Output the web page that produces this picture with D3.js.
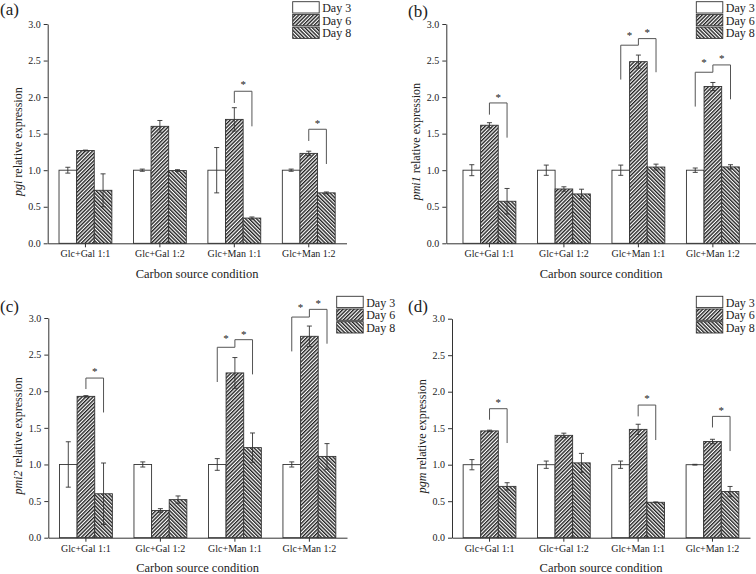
<!DOCTYPE html>
<html>
<head>
<meta charset="utf-8">
<script src="https://cdn.jsdelivr.net/npm/d3@7"></script>
<style>
  body { margin: 0; background: #fff; }
  svg { display: block; }
  text { font-family: "Liberation Serif", "Times New Roman", "DejaVu Serif", serif; fill: #222; }
</style>
</head>
<body>
<svg width="756" height="574"></svg>
<script>
const categories = ["Glc+Gal 1:1", "Glc+Gal 1:2", "Glc+Man 1:1", "Glc+Man 1:2"];
const days = ["Day 3", "Day 6", "Day 8"];
const yTicks = [0, 0.5, 1.0, 1.5, 2.0, 2.5, 3.0];

// means / errors: one row per day, one column per category
const pgiMean = [[1.00, 1.00, 1.00, 1.00], [1.27, 1.60, 1.695, 1.23], [0.725, 0.995, 0.345, 0.69]];
const pgiErr  = [[0.04, 0.015, 0.31, 0.015], [0.005, 0.08, 0.16, 0.03], [0.225, 0.012, 0.015, 0.012]];

const pmi1Mean = [[1.00, 1.00, 1.00, 1.00], [1.615, 0.743, 2.485, 2.145], [0.575, 0.675, 1.043, 1.045]];
const pmi1Err  = [[0.075, 0.07, 0.07, 0.03], [0.035, 0.03, 0.09, 0.055], [0.175, 0.065, 0.04, 0.03]];

const pmi2Mean = [[1.00, 1.00, 1.00, 1.00], [1.93, 0.372, 2.25, 2.75], [0.60, 0.52, 1.23, 1.11]];
const pmi2Err  = [[0.31, 0.035, 0.08, 0.035], [0.01, 0.025, 0.21, 0.14], [0.42, 0.05, 0.2, 0.175]];

const pgmMean = [[1.00, 1.00, 1.00, 1.00], [1.463, 1.402, 1.484, 1.318], [0.703, 1.025, 0.485, 0.632]];
const pgmErr  = [[0.07, 0.05, 0.05, 0.005], [0.01, 0.03, 0.07, 0.03], [0.05, 0.13, 0.005, 0.07]];

// significance brackets: [category, fromDay, toDay, top, leftLegBottom, rightLegBottom, star]
const pgiSig  = [[2, 1, 2, 2.08, 1.92, 1.60, 2.19], [3, 1, 2, 1.56, 1.40, 1.085, 1.66]];
const pmi1Sig = [[0, 1, 2, 1.92, 1.76, 1.445, 2.02],
                 [2, 0, 1, 2.71, 2.24, 2.71, 2.86], [2, 1, 2, 2.80, 2.71, 2.34, 2.90],
                 [3, 0, 1, 2.34, 1.87, 2.34, 2.49], [3, 1, 2, 2.44, 2.34, 1.97, 2.55]];
const pmi2Sig = [[0, 1, 2, 2.18, 2.03, 1.71, 2.285],
                 [2, 0, 1, 2.60, 2.126, 2.60, 2.74], [2, 1, 2, 2.704, 2.60, 2.23, 2.80],
                 [3, 0, 1, 3.013, 2.544, 3.013, 3.16], [3, 1, 2, 3.118, 3.013, 2.649, 3.22]];
const pgmSig  = [[0, 1, 2, 1.767, 1.616, 1.297, 1.87], [2, 1, 2, 1.817, 1.662, 1.338, 1.93],
                 [3, 1, 2, 1.662, 1.51, 1.187, 1.767]];

const panels = [
  {tag: "(a)", gene: "pgi",  mean: pgiMean,  err: pgiErr,  sig: pgiSig,
   x0: 47.7, x1: 346.5, yBase: 243.3, yTop: 24, po: 0.152, lx: 292.7, ly: 1.7, tx: 0, ty: 15},
  {tag: "(b)", gene: "pmi1", mean: pmi1Mean, err: pmi1Err, sig: pmi1Sig,
   x0: 446.3, x1: 756, yBase: 243.3, yTop: 24, po: 0.224, lx: 696.3, ly: 1.7, tx: 408, ty: 16.5},
  {tag: "(c)", gene: "pmi2", mean: pmi2Mean, err: pmi2Err, sig: pmi2Sig,
   x0: 48.3, x1: 347, yBase: 537.7, yTop: 318, po: 0.15, lx: 336.7, ly: 296.3, tx: 0, ty: 312},
  {tag: "(d)", gene: "pgm",  mean: pgmMean,  err: pgmErr,  sig: pgmSig,
   x0: 452, x1: 750, yBase: 537.7, yTop: 318.7, po: 0.15, lx: 696.3, ly: 296.3, tx: 408, ty: 312}
];

const svg = d3.select("svg");
const defs = svg.append("defs");

function hatch(id, angle) {
  const p = defs.append("pattern").attr("id", id)
    .attr("patternUnits", "userSpaceOnUse")
    .attr("width", 2.6).attr("height", 2.6)
    .attr("patternTransform", `rotate(${angle})`);
  p.append("rect").attr("width", 2.6).attr("height", 2.6).attr("fill", "#fff");
  p.append("line").attr("x1", 0.7).attr("x2", 0.7).attr("y1", 0).attr("y2", 2.6)
    .attr("stroke", "#222").attr("stroke-width", 1.4);
}
hatch("h6", 45);
hatch("h8", -45);
const fills = ["#fff", "url(#h6)", "url(#h8)"];
const ink = "#333";

panels.forEach(p => {
  const g = svg.append("g");
  const x = d3.scaleBand().domain(categories).range([p.x0, p.x1])
    .paddingInner(0.29).paddingOuter(p.po);
  const xd = d3.scaleBand().domain(days).range([0, x.bandwidth()]);
  const y = d3.scaleLinear().domain([0, 3]).range([p.yBase, p.yTop]);
  const cx = (ci, di) => x(categories[ci]) + xd(days[di]) + xd.bandwidth() / 2;

  // bars
  days.forEach((day, di) => {
    g.selectAll(null).data(categories).enter().append("rect")
      .attr("x", c => x(c) + xd(day))
      .attr("y", (c, i) => y(p.mean[di][i]))
      .attr("width", xd.bandwidth())
      .attr("height", (c, i) => y(0) - y(p.mean[di][i]))
      .attr("fill", fills[di])
      .attr("stroke", ink).attr("stroke-width", 0.9);
  });

  // error bars
  days.forEach((day, di) => {
    categories.forEach((c, i) => {
      const m = p.mean[di][i], e = p.err[di][i], xc = cx(i, di);
      const eb = g.append("g").attr("stroke", ink).attr("stroke-width", 0.9);
      eb.append("line").attr("x1", xc).attr("x2", xc).attr("y1", y(m + e)).attr("y2", y(m - e));
      eb.append("line").attr("x1", xc - 2.5).attr("x2", xc + 2.5).attr("y1", y(m + e)).attr("y2", y(m + e));
      eb.append("line").attr("x1", xc - 2.5).attr("x2", xc + 2.5).attr("y1", y(m - e)).attr("y2", y(m - e));
    });
  });

  // axes
  const ya = g.append("g").attr("transform", `translate(${p.x0},0)`)
    .call(d3.axisLeft(y).tickValues(yTicks).tickFormat(d3.format(".1f")).tickSize(4).tickSizeOuter(0));
  const xa = g.append("g").attr("transform", `translate(0,${p.yBase})`)
    .call(d3.axisBottom(x).tickSize(4).tickSizeOuter(0));
  [ya, xa].forEach(a => {
    a.attr("font-family", null);
    a.selectAll("path, line").attr("stroke", ink).attr("stroke-width", 1);
    a.selectAll("text").attr("font-size", 10).attr("fill", "#222");
  });

  // significance brackets
  p.sig.forEach(s => {
    const xl = cx(s[0], s[1]), xr = cx(s[0], s[2]);
    g.append("path")
      .attr("d", `M${xl},${y(s[4])}V${y(s[3])}H${xr}V${y(s[5])}`)
      .attr("fill", "none").attr("stroke", "#555").attr("stroke-width", 1);
    g.append("text").attr("x", (xl + xr) / 2).attr("y", y(s[6]) + 5)
      .attr("text-anchor", "middle").attr("font-size", 11).attr("fill", "#111").text("*");
  });

  // axis titles
  g.append("text").attr("x", (p.x0 + p.x1) / 2).attr("y", p.yBase + 34.4)
    .attr("text-anchor", "middle").attr("font-size", 12.5).text("Carbon source condition");
  const yl = g.append("text")
    .attr("transform", `translate(${p.x0 - 26},${(p.yBase + p.yTop) / 2 + 8}) rotate(-90)`)
    .attr("text-anchor", "middle").attr("font-size", 12);
  yl.append("tspan").attr("font-style", "italic").text(p.gene);
  yl.append("tspan").text(" relative expression");

  // panel letter
  g.append("text").attr("x", p.tx).attr("y", p.ty).attr("font-size", 17).text(p.tag);

  // legend
  const lg = g.append("g").attr("transform", `translate(${p.lx},${p.ly})`);
  days.forEach((day, di) => {
    lg.append("rect").attr("x", 0).attr("y", di * 12.7).attr("width", 26.5).attr("height", 11.3)
      .attr("fill", fills[di]).attr("stroke", ink).attr("stroke-width", 0.9);
    lg.append("text").attr("x", 29.5).attr("y", di * 12.7 + 10.4).attr("font-size", 12).text(day);
  });
});
</script>
</body>
</html>
